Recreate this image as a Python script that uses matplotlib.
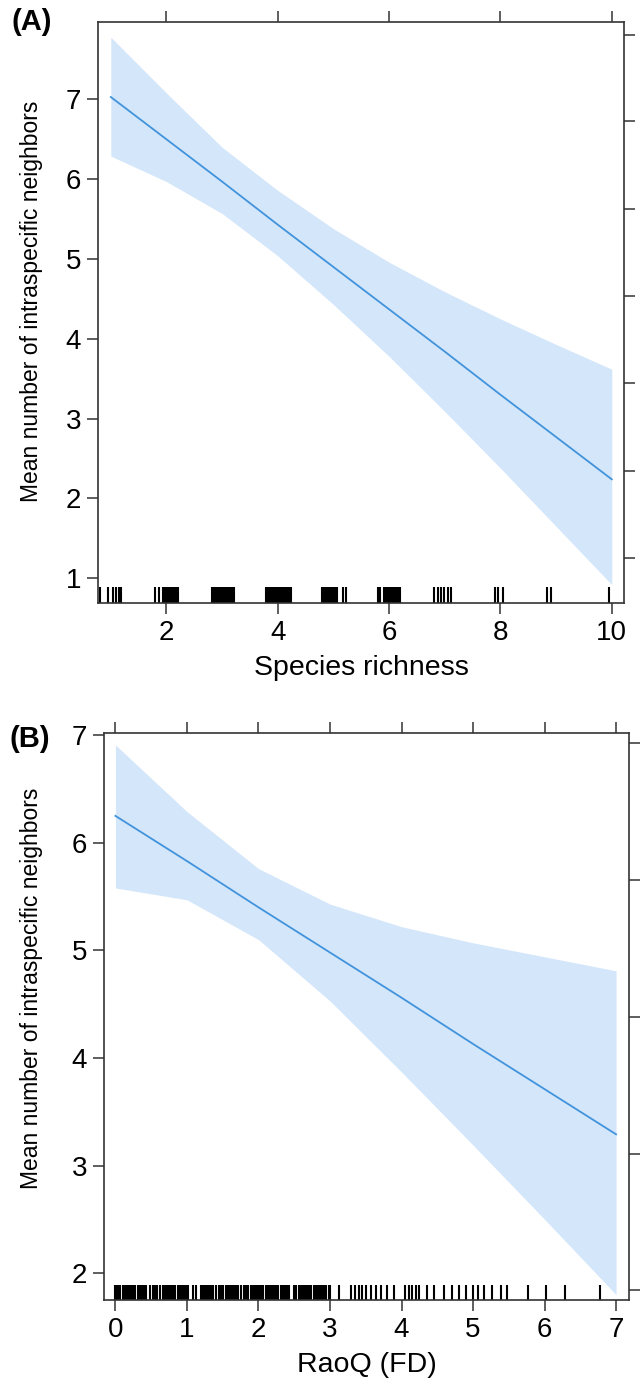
import matplotlib
matplotlib.use('Agg')
import matplotlib.pyplot as plt

# (A) species richness effect
rich_x = [1, 2, 3, 4, 5, 6, 7, 8, 9, 10]
rich_fit = [7.03, 6.50, 5.97, 5.43, 4.90, 4.37, 3.84, 3.30, 2.77, 2.24]
rich_hi = [7.78, 7.08, 6.40, 5.86, 5.38, 4.96, 4.59, 4.25, 3.93, 3.62]
rich_lo = [6.29, 5.97, 5.57, 5.04, 4.43, 3.78, 3.09, 2.38, 1.65, 0.92]
rich_rug = [0.80, 0.95, 1.04, 1.09, 1.14, 1.19,
            1.80, 1.87, 1.94, 1.97, 2.00, 2.02, 2.05, 2.07, 2.10, 2.12, 2.15, 2.18, 2.20,
            2.82, 2.85, 2.88, 2.91, 2.94, 2.97, 3.00, 3.03, 3.06, 3.09, 3.12, 3.15, 3.18, 3.21,
            3.79, 3.82, 3.85, 3.88, 3.91, 3.94, 3.97, 4.00, 4.03, 4.06, 4.09, 4.12, 4.15, 4.18,
            4.21, 4.24,
            4.80, 4.83, 4.86, 4.89, 4.92, 4.95, 4.98, 5.01, 5.04, 5.07, 5.17, 5.22,
            5.80, 5.84, 5.90, 5.93, 5.96, 5.99, 6.02, 6.05, 6.08, 6.11, 6.14, 6.17, 6.20,
            6.80, 6.87, 6.93, 6.98, 7.05, 7.12,
            7.90, 7.95, 8.05,
            8.83, 8.90,
            9.95]
rich_xticks = [2, 4, 6, 8, 10]
rich_yticks = [1, 2, 3, 4, 5, 6, 7]
rich_right = [1.26, 2.35, 3.45, 4.54, 5.63, 6.73, 7.81]

# (B) RaoQ (FD) effect
rao_x = [0, 1, 2, 3, 4, 5, 6, 7]
rao_fit = [6.25, 5.83, 5.40, 4.98, 4.56, 4.13, 3.71, 3.29]
rao_hi = [6.91, 6.29, 5.76, 5.43, 5.22, 5.07, 4.94, 4.81]
rao_lo = [5.58, 5.47, 5.10, 4.53, 3.87, 3.19, 2.50, 1.80]
rao_rug = [0.00, 0.02, 0.05, 0.07, 0.10, 0.12, 0.15, 0.18, 0.20, 0.23, 0.26, 0.28,
           0.31, 0.34, 0.37, 0.40, 0.43, 0.49, 0.52, 0.55, 0.58, 0.63, 0.66, 0.69,
           0.72, 0.75, 0.78, 0.81, 0.84, 0.87, 0.90, 0.93, 0.96, 0.99, 1.02, 1.09,
           1.12, 1.19, 1.22, 1.25, 1.28, 1.31, 1.34, 1.37, 1.40, 1.45, 1.48, 1.51,
           1.54, 1.57, 1.60, 1.63, 1.66, 1.69, 1.72, 1.75, 1.80, 1.83, 1.86, 1.89,
           1.92, 1.95, 1.98, 2.01, 2.04, 2.07, 2.10, 2.13, 2.16, 2.19, 2.22, 2.25,
           2.28, 2.31, 2.34, 2.37, 2.40, 2.43, 2.50, 2.53, 2.56, 2.59, 2.62, 2.65,
           2.68, 2.71, 2.74, 2.77, 2.80, 2.83, 2.86, 2.89, 2.92, 2.95, 2.98, 3.00,
           3.12, 3.30, 3.35, 3.40, 3.45, 3.50, 3.57, 3.65, 3.72, 3.80, 3.90,
           4.05, 4.10, 4.15, 4.20, 4.25, 4.35, 4.45, 4.60, 4.70, 4.80, 4.90,
           5.00, 5.07, 5.15, 5.27, 5.39, 5.47, 5.77, 6.02, 6.29, 6.77]
rao_xticks = [0, 1, 2, 3, 4, 5, 6, 7]
rao_yticks = [2, 3, 4, 5, 6, 7]
rao_right = [1.84, 3.11, 4.38, 5.65, 6.93]

band_col = '#d4e6fa'
line_col = '#4193dc'
frame_col = '#333333'

plt.rcParams['font.family'] = ['Liberation Sans', 'DejaVu Sans']

fig = plt.figure(figsize=(6.41, 13.92), dpi=100)
axA = fig.add_axes([0.1529, 0.5668, 0.8206, 0.4174])
axB = fig.add_axes([0.1622, 0.0661, 0.8190, 0.4073])


def effect_panel(ax, x, fit, lo, hi, rug, xticks, yticks, right, xlim, ylim, xlabel, tag, ylab_pos):
    ax.fill_between(x, lo, hi, color=band_col, lw=0)
    ax.plot(x, fit, color=line_col, lw=1.3)
    ax.vlines(rug, 0, 0.027, transform=ax.get_xaxis_transform(), color='black', lw=1.5)
    ax.set_xlim(xlim)
    ax.set_ylim(ylim)
    ax.set_xticks(xticks)
    ax.set_yticks(yticks)
    for s in ax.spines.values():
        s.set_color(frame_col)
        s.set_linewidth(1.2)
    ax.tick_params(direction='out', length=8, width=1.1, color=frame_col,
                   labelsize=20, top=True, pad=4)
    sec = ax.secondary_yaxis('right')
    sec.set_yticks(right)
    sec.tick_params(direction='out', length=8, width=1.1, color=frame_col, labelright=False)
    sec.spines['right'].set_visible(False)
    ax.set_xlabel(xlabel, fontsize=20.5, labelpad=7)
    ax.set_ylabel('Mean number of intraspecific neighbors', fontsize=16.5)
    ax.yaxis.set_label_coords(ylab_pos[0], ylab_pos[1])
    ax.text(tag[0], tag[1], tag[2], transform=ax.transAxes, fontsize=21,
            fontweight='bold', ha='left', va='center')


effect_panel(axA, rich_x, rich_fit, rich_lo, rich_hi, rich_rug, rich_xticks, rich_yticks,
             rich_right, (0.77, 10.22), (0.69, 7.97), 'Species richness',
             (-0.165, 1.0, '(A)'), (-0.104, 0.52))
effect_panel(axB, rao_x, rao_fit, rao_lo, rao_hi, rao_rug, rao_xticks, rao_yticks,
             rao_right, (-0.16, 7.18), (1.75, 7.02), 'RaoQ (FD)',
             (-0.18, 0.99, '(B)'), (-0.116, 0.55))

fig.savefig('out.png', dpi=100)
